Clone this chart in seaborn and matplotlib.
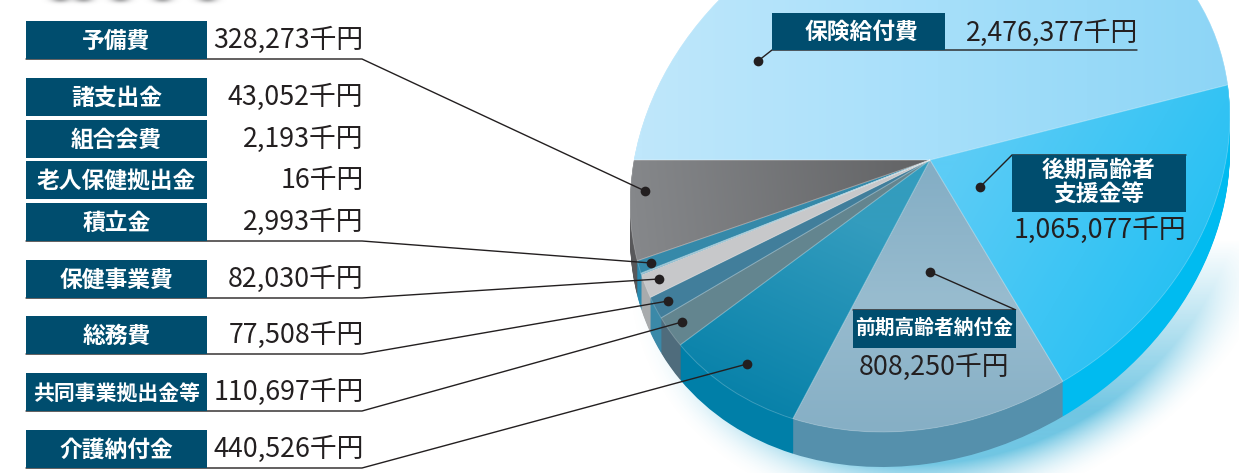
import numpy as np
import matplotlib
matplotlib.use("Agg")
import matplotlib.pyplot as plt
from matplotlib.patches import Rectangle
from matplotlib.transforms import Affine2D
import seaborn as sns

# values (thousand yen), clockwise from the top-left edge
categories = ["保険給付費", "後期高齢者支援金等", "前期高齢者納付金", "介護納付金", "共同事業拠出金等",
              "総務費", "保健事業費", "積立金", "老人保健拠出金", "組合会費", "諸支出金", "予備費"]
values = [2476377, 1065077, 808250, 440526, 110697, 77508, 82030, 2993, 16, 2193, 43052, 328273]

top_colors = ["#A6DFFA", "#38C5F4", "#8FB6CB", "#1E8DB3", "#63858F", "#417E9B", "#C7C8CA",
              "#3589A9", "#3589A9", "#3589A9", "#3589A9", "#76787B"]
rim_colors = ["#8FD7F7", "#00BBF0", "#5590AC", "#007FA8", "#4F6C7C", "#3B89A8", "#A8ABAD",
              "#2A8AB0", "#2A8AB0", "#2A8AB0", "#2A8AB0", "#58585A"]

# left table: label, value, top of box
left_labels = ["予備費", "諸支出金", "組合会費", "老人保健拠出金", "積立金", "保健事業費", "総務費", "共同事業拠出金等", "介護納付金"]
left_values = ["328,273千円", "43,052千円", "2,193千円", "16千円", "2,993千円", "82,030千円", "77,508千円", "110,697千円", "440,526千円"]
left_tops = [21, 78, 120, 161, 203, 260, 316, 373, 430]

W, H = 1239, 473
NAVY = "#004D6E"
INK = "#231F20"
DEPTH = 35

sns.set_theme(style="white")
plt.rcParams["font.family"] = ["Noto Sans CJK JP", "DejaVu Sans"]

fig = plt.figure(figsize=(W / 100, H / 100), dpi=100)
ax = fig.add_axes([0, 0, 1, 1])

# unit pie -> tilted ellipse in pixel coordinates
def squash(dy=0):
    return Affine2D.from_values(296, 0, 48, -272, 930, 160 + dy) + ax.transData

def draw_pie(colors=None, dy=0, z=2, **props):
    wedges, _ = ax.pie(values, colors=colors, startangle=180, counterclock=False,
                       wedgeprops=dict(linewidth=0, zorder=z, **props))
    for w in wedges:
        w.set_transform(squash(dy))
    return wedges

yy, xx = np.mgrid[0:H, 0:W]
extent = (0, W, H, 0)

# soft glow under the pie, fading out towards the upper right
uy = (160 + 48 - yy) / 272
ux = (xx - 930 - 32 - 48 * uy) / 296
r = np.hypot(ux, uy)
glow = np.zeros((H, W, 4))
glow[..., :3] = matplotlib.colors.to_rgb("#4DB8DC")
glow[..., 3] = np.clip((1.14 - r) / 0.2, 0, 1) ** 2 * 0.8 * np.clip((yy - 240) / 170, 0, 1)
ax.imshow(glow, extent=extent, aspect="auto", zorder=0)

# smudges of the cut-off heading along the top edge
smudge = np.zeros((H, W, 4))
smudge[..., :3] = matplotlib.colors.to_rgb("#6D6E70")
for cx in [60, 83, 120, 162, 207]:
    smudge[..., 3] += 0.6 * np.exp(-((xx - cx) / 9.0) ** 2 - (yy / 3.0) ** 2)
smudge[..., 3] = np.clip(smudge[..., 3], 0, 1)
ax.imshow(smudge, extent=extent, aspect="auto", zorder=0)

# side of the pie, stacked from the bottom up
for dy in range(DEPTH, 0, -1):
    draw_pie(rim_colors, dy=dy, z=1)

top = draw_pie(top_colors, z=2)

# gradients on the big slices: colours, start point, end point
gradients = {
    0: (["#BFE7FB", "#A6DFFA", "#8CD5F6"], (640, 100), (1235, 100)),
    1: (["#5CCCF6", "#1CBEF2"], (950, 170), (1220, 330)),
    2: (["#84AEC5", "#98BCCF", "#86AFC5"], (930, 170), (930, 430)),
    3: (["#339CBE", "#0680A8"], (850, 220), (760, 420)),
    11: (["#85878A", "#626365"], (635, 200), (925, 170)),
}
for i, (cols, p0, p1) in gradients.items():
    d = np.array(p1) - np.array(p0)
    t = ((xx - p0[0]) * d[0] + (yy - p0[1]) * d[1]) / (d @ d)
    cmap = sns.blend_palette(cols, as_cmap=True)
    im = ax.imshow(np.clip(t, 0, 1), cmap=cmap, vmin=0, vmax=1, extent=extent, aspect="auto", zorder=3)
    im.set_clip_path(top[i])

# thin light edges between slices
for w in draw_pie(z=4, fill=False):
    w.set_edgecolor((1, 1, 1, 0.2))
    w.set_linewidth(0.7)

ax.set_aspect("auto")
ax.set_xlim(0, W)
ax.set_ylim(H, 0)
ax.axis("off")

def box(x0, y0, x1, y1):
    ax.add_patch(Rectangle((x0, y0), x1 - x0, y1 - y0, facecolor=NAVY, edgecolor="none", zorder=6))

def label(x, y, s, size=16.4):
    ax.text(x, y + 2, s, color="white", fontsize=size, fontweight="bold", ha="center", va="center",
            linespacing=1.1, zorder=7)

def amount(x, y, s, ha="right"):
    ax.text(x, y + 2, s, color=INK, fontsize=19.3, ha=ha, va="center", zorder=7)

def leader(xs, ys):
    ax.plot(xs, ys, color=INK, lw=1.0, solid_joinstyle="miter", zorder=5)
    ax.plot(xs[-1], ys[-1], "o", color=INK, ms=7, mew=0, zorder=8)

# left table
for name, val, y0 in zip(left_labels, left_values, left_tops):
    box(26, y0, 207, y0 + 38)
    label(116.5, y0 + 18, name, size=15 if len(name) > 7 else 16.4)
    amount(363.5, y0 + 17, val)

leader_rows = {0: (645, 191), 4: (651, 263), 5: (659, 279), 6: (668, 301), 7: (682, 322), 8: (747, 364)}
for row, (dx, dy) in leader_rows.items():
    yl = left_tops[row] + 38
    leader([26, 362, dx], [yl, yl, dy])

# labels on the pie
box(772, 13, 945, 50)
label(861, 30, "保険給付費")
amount(1138, 31, "2,476,377千円")
leader([1137, 772, 758], [50, 50, 61])

box(1012, 155, 1186, 212)
label(1099, 181, "後期高齢者\n支援金等")
amount(1186, 228, "1,065,077千円")
leader([1186, 1012, 980], [155, 155, 187])

box(853, 310, 1016, 348)
label(934, 326, "前期高齢者納付金", size=14.2)
amount(934, 365, "808,250千円", ha="center")
leader([853, 1016, 930], [310, 310, 272])

fig.savefig("out.png", dpi=100)
